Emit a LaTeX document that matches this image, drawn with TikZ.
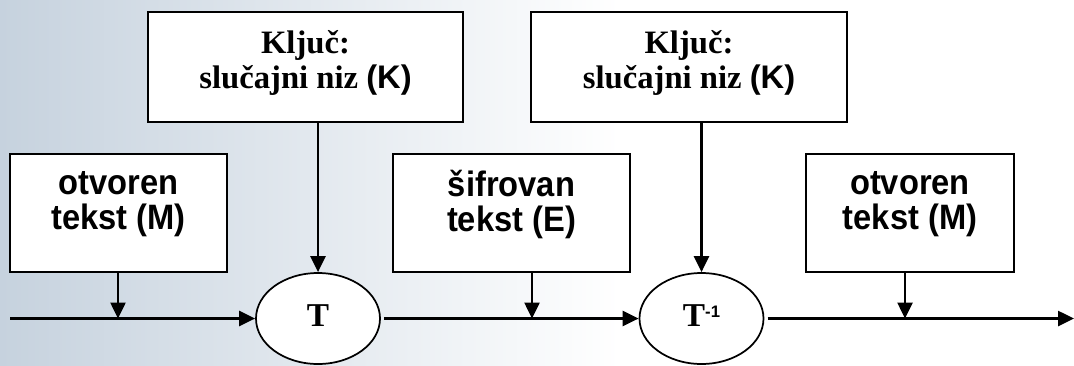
\documentclass[tikz,border=0pt]{standalone}
\usepackage{graphicx}
\usepackage{fontspec}
\setmainfont{Liberation Serif}
\newfontfamily\arialfont{Liberation Sans}
\usetikzlibrary{arrows.meta,shapes.geometric}
\definecolor{bgblue}{HTML}{C6D2DE}
\definecolor{bgmid}{HTML}{EAEFF4}
\newcommand\vstretch[1]{\scalebox{1}[1.08]{#1}}
\begin{document}
\begin{tikzpicture}[x=0.75pt,y=-0.75pt,
  box/.style={draw=black, line width=1.5pt, fill=white, inner sep=0pt},
  txtsans/.style={font=\arialfont\bfseries\fontsize{24.5}{26.25}\selectfont, align=center, inner sep=0pt},
  txtserif/.style={font=\bfseries\fontsize{24.5}{26.25}\selectfont, align=center, inner sep=0pt},
  oper/.style={ellipse, draw=black, line width=1.3pt, fill=white, minimum width=93pt, minimum height=68.25pt, inner sep=0pt, text depth=4.6pt, font=\bfseries\fontsize{25}{26.25}\selectfont},
  arr/.style={line width=1.9pt, -{Triangle[length=12pt,width=11.25pt]}}
]
\useasboundingbox (0,0) rectangle (1074,365);
\shade[left color=bgblue, middle color=bgmid, right color=white] (0,0) rectangle (620,365);
\fill[white] (620,0) rectangle (1074,365);

% key boxes
\node[box, minimum width=236.25pt, minimum height=82.5pt] (keyA) at (305.5,67) {};
\node[txtserif] (keyAt) at (305.5,62.7) {Ključ:\\slučajni niz {\arialfont (K)}};
\node[box, minimum width=237pt, minimum height=82.5pt] (keyB) at (689,67) {};
\node[txtserif] (keyBt) at (689,62.7) {Ključ:\\slučajni niz {\arialfont (K)}};

% text boxes
\node[box, minimum width=162.75pt, minimum height=88.5pt] (pA) at (118.5,213) {};
\node[txtsans] (pAt) at (118.5,204) {\vstretch{otvoren}\\\vstretch{tekst (M)}};
\node[box, minimum width=177.75pt, minimum height=88.5pt] (cE) at (511.5,213) {};
\node[txtsans] (cEt) at (511.5,204) {\vstretch{šifrovan}\\\vstretch{tekst (E)}};
\node[box, minimum width=156pt, minimum height=88.5pt] (pB) at (910,213) {};
\node[txtsans] (pBt) at (910,204) {\vstretch{otvoren}\\\vstretch{tekst (M)}};

% operations
\node[oper] (T) at (318,318.5) {T};
\node[oper] (Ti) at (701.5,318.5) {T\raisebox{6.5pt}{\arialfont\bfseries\fontsize{12.5}{14}\selectfont -1}};

% main line
\coordinate (start) at (10,318.5);
\coordinate (end) at (1074,318.5);
\draw[arr] (start) -- (T.west);
\draw[arr, shorten <=2.5pt] (T.east) -- (Ti.west);
\draw[arr, shorten <=2.5pt] (Ti.east) -- (end);

% feeds
\coordinate (jA) at (118,318.5);
\coordinate (jE) at (532,318.5);
\coordinate (jB) at (905,318.5);
\draw[arr] (pA.south -| jA) -- (jA);
\draw[arr] (cE.south -| jE) -- (jE);
\draw[arr] (pB.south -| jB) -- (jB);
\draw[arr] (keyA.south -| T.north) -- (T.north);
\draw[arr] (keyB.south -| Ti.north) -- (Ti.north);
\end{tikzpicture}
\end{document}
